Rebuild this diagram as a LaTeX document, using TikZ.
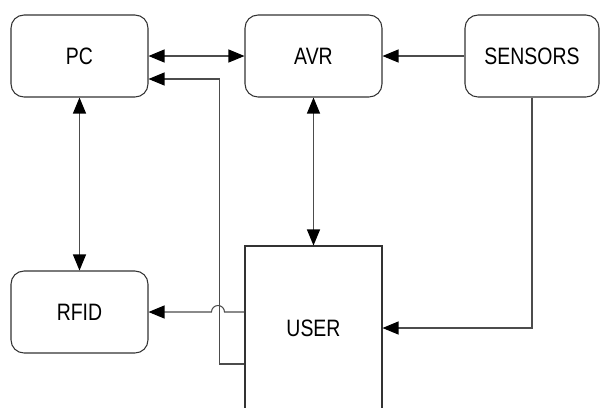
\documentclass[tikz,border=0pt]{standalone}
\usepackage{fontspec}
\setmainfont{Liberation Sans}[FakeStretch=0.82]
\usetikzlibrary{arrows.meta}
\begin{document}
\begin{tikzpicture}[x=0.02cm, y=-0.02cm,
  >={Triangle[length=0.32cm, width=0.26cm, color=black]},
  box/.style={draw=black!80, line width=0.6pt, rounded corners=0.26cm, minimum width=2.74cm, minimum height=1.64cm, inner sep=0pt, font=\fontsize{13.5}{15}\selectfont},
  link/.style={draw=black!70, line width=0.6pt}]
\useasboundingbox (0,0) rectangle (600,407);
\begin{scope}
\clip (0,0) rectangle (600,407);
\node[box] (pc) at (79.5,56) {PC};
\node[box] (avr) at (313.5,56) {AVR};
\node[box, minimum width=2.68cm] (sensors) at (532,56) {SENSORS};
\node[box] (rfid) at (79.5,312) {RFID};
\node[box, rounded corners=0pt, minimum height=3.28cm] (user) at (313.5,328) {USER};
\draw[link, <->] (pc) -- (avr);
\draw[link, ->] (sensors) -- (avr);
\draw[link, <->] (pc) -- (rfid);
\draw[link, <->] (avr) -- (user);
\draw[link, ->] (sensors.south) |- (user.east);
\draw[link, ->] (user.west |- rfid.east) -- ([xshift=-0.4cm]user.west |- rfid.east)
  arc[start angle=0, end angle=180, radius=0.13cm] -- (rfid.east);
\draw[link, ->] ([yshift=-0.72cm]user.west) -| ([xshift=1.42cm,yshift=-0.46cm]pc.east) -- ([yshift=-0.46cm]pc.east);
\end{scope}
\end{tikzpicture}
\end{document}
